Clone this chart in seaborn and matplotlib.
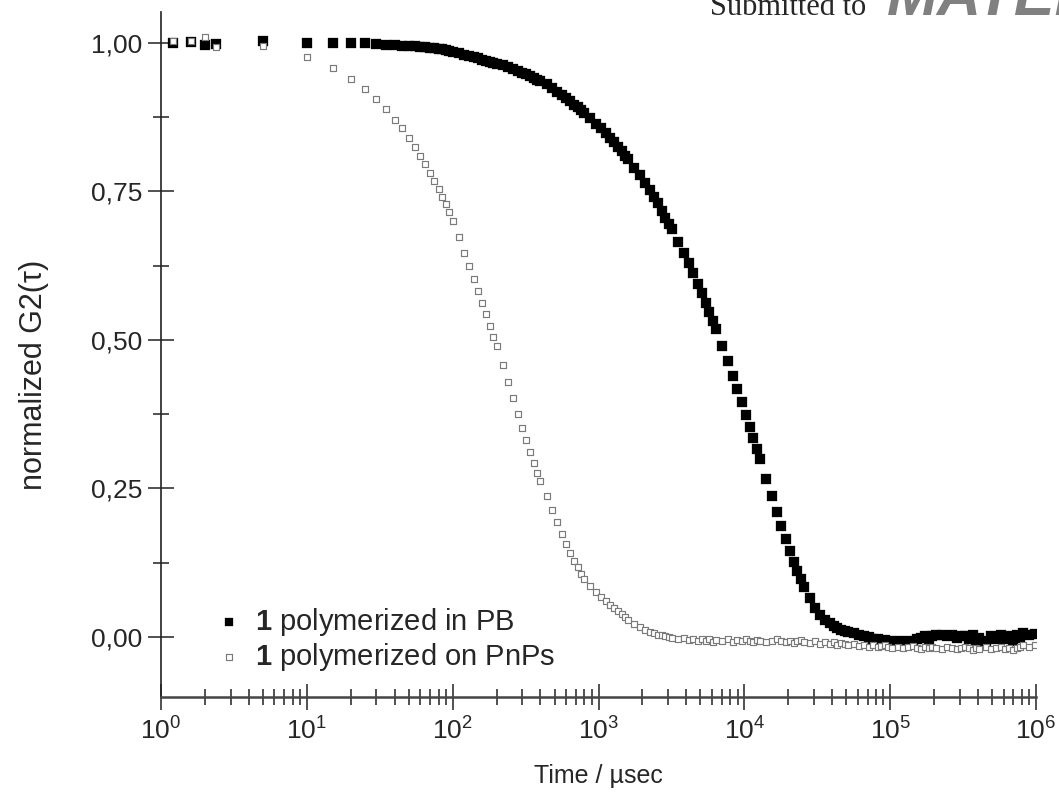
import math
import matplotlib
matplotlib.use("Agg")
import matplotlib.pyplot as plt
import matplotlib.ticker as mticker
import seaborn as sns
import pandas as pd

# ---------------- data ----------------
tau_us = [1.2, 1.6, 2.0, 2.4, 5,
          10, 15, 20, 25, 30, 35, 40, 45, 50, 55, 60, 65, 70, 75, 80, 85, 90, 95, 100,
          110, 120, 130, 140, 150, 160, 170, 180, 190, 200,
          220, 240, 260, 280, 300, 320, 340, 360, 380, 400,
          440, 480, 520, 560, 600, 640, 680, 720, 760, 800,
          880, 960, 1040, 1120, 1200, 1280, 1360, 1440, 1520, 1600,
          1760, 1920, 2080, 2240, 2400, 2560, 2720, 2880, 3040, 3200,
          3520, 3840, 4160, 4480, 4800, 5120, 5440, 5760, 6080, 6400,
          7040, 7680, 8320, 8960, 9600, 10240, 10880, 11520, 12160, 12800,
          14080, 15360, 16640, 17920, 19200, 20480, 21760, 23040, 24320, 25600,
          28160, 30720, 33280, 35840, 38400, 40960, 43520, 46080, 48640, 51200,
          56320, 61440, 66560, 71680, 76800, 81920, 87040, 92160, 97280, 102400,
          112640, 122880, 133120, 143360, 153600, 163840, 174080, 184320, 194560, 204800,
          225280, 245760, 266240, 286720, 307200, 327680, 348160, 368640, 389120, 409600,
          450560, 491520, 532480, 573440, 614400, 655360, 696320, 737280, 778240, 819200,
          901120, 983040]

g2_pb = [1.000, 1.001, 0.996, 0.998, 1.003,
         1.000, 1.000, 0.999, 0.999, 0.998, 0.997, 0.996, 0.995, 0.995, 0.994, 0.993, 0.993, 0.992, 0.991, 0.990, 0.989, 0.988, 0.986, 0.985,
         0.983, 0.980, 0.978, 0.976, 0.974, 0.972, 0.970, 0.968, 0.966, 0.965,
         0.962, 0.959, 0.956, 0.953, 0.950, 0.948, 0.944, 0.941, 0.938, 0.936,
         0.930, 0.924, 0.918, 0.912, 0.907, 0.902, 0.896, 0.892, 0.887, 0.882,
         0.873, 0.864, 0.856, 0.848, 0.840, 0.833, 0.825, 0.818, 0.810, 0.804,
         0.790, 0.778, 0.765, 0.752, 0.740, 0.730, 0.717, 0.706, 0.696, 0.686,
         0.665, 0.647, 0.630, 0.612, 0.595, 0.579, 0.562, 0.547, 0.532, 0.518,
         0.489, 0.465, 0.440, 0.417, 0.395, 0.374, 0.353, 0.335, 0.317, 0.300,
         0.266, 0.238, 0.211, 0.186, 0.165, 0.145, 0.127, 0.111, 0.097, 0.084,
         0.065, 0.049, 0.037, 0.029, 0.023, 0.018, 0.015, 0.012, 0.010, 0.008,
         0.006, 0.004, 0.002, 0.000, -0.003, -0.004, -0.006, -0.005, -0.007, -0.008,
         -0.007, -0.009, -0.006, -0.008, -0.004, -0.002, 0.001, -0.003, 0.002, 0.004,
         0.003, 0.001, 0.004, -0.002, 0.001, 0.002, -0.004, 0.003, -0.007, -0.002,
         -0.006, 0.001, -0.004, 0.004, -0.003, 0.002, -0.006, 0.004, -0.002, 0.006,
         0.003, 0.005]

g2_pnps = [1.004, 1.003, 1.010, 0.993, 0.994,
           0.976, 0.958, 0.939, 0.922, 0.906, 0.889, 0.870, 0.857, 0.840, 0.825, 0.810, 0.796, 0.781, 0.768, 0.754, 0.741, 0.729, 0.715, 0.700,
           0.673, 0.647, 0.624, 0.603, 0.582, 0.562, 0.543, 0.524, 0.505, 0.489,
           0.458, 0.429, 0.402, 0.376, 0.352, 0.331, 0.311, 0.293, 0.276, 0.263,
           0.237, 0.213, 0.193, 0.174, 0.157, 0.141, 0.128, 0.117, 0.106, 0.097,
           0.086, 0.075, 0.067, 0.060, 0.054, 0.048, 0.043, 0.038, 0.034, 0.029,
           0.022, 0.016, 0.011, 0.008, 0.006, 0.004, 0.003, 0.001, 0.000, -0.001,
           -0.003, -0.002, -0.005, -0.004, -0.007, -0.003, -0.006, -0.004, -0.008, -0.005,
           -0.006, -0.004, -0.008, -0.005, -0.007, -0.003, -0.006, -0.009, -0.005, -0.007,
           -0.008, -0.006, -0.004, -0.007, -0.009, -0.006, -0.010, -0.007, -0.005, -0.008,
           -0.010, -0.007, -0.011, -0.008, -0.012, -0.009, -0.013, -0.010, -0.012, -0.014,
           -0.012, -0.015, -0.013, -0.016, -0.014, -0.017, -0.015, -0.013, -0.016, -0.018,
           -0.016, -0.019, -0.017, -0.015, -0.018, -0.020, -0.017, -0.019, -0.016, -0.018,
           -0.020, -0.017, -0.019, -0.021, -0.018, -0.016, -0.019, -0.022, -0.018, -0.020,
           -0.017, -0.021, -0.019, -0.016, -0.020, -0.018, -0.022, -0.019, -0.017, -0.014,
           -0.016, -0.013]

label_pb = r"$\mathbf{1}$ polymerized in PB"
label_pnps = r"$\mathbf{1}$ polymerized on PnPs"
y_ticks = [0.00, 0.25, 0.50, 0.75, 1.00]
y_minor = [0.125, 0.375, 0.625, 0.875]
x_decades = [0, 1, 2, 3, 4, 5, 6]

# ---------------- style ----------------
sns.set_style("ticks")
plt.rcParams["font.family"] = ["Liberation Sans", "DejaVu Sans"]
plt.rcParams["mathtext.fontset"] = "custom"
plt.rcParams["mathtext.rm"] = "Liberation Sans"
plt.rcParams["mathtext.bf"] = "Liberation Sans:bold"
plt.rcParams["mathtext.it"] = "Liberation Sans:italic"
plt.rcParams["mathtext.sf"] = "Liberation Sans"

fig = plt.figure(figsize=(10.59, 8.0), dpi=100)
ax = fig.add_axes([161 / 1059, 103 / 800, 875 / 1059, 685 / 800])

df_pb = pd.DataFrame({"tau": tau_us, "g2": g2_pb})
df_pn = pd.DataFrame({"tau": tau_us, "g2": g2_pnps})

sns.scatterplot(data=df_pb, x="tau", y="g2", ax=ax, marker="s", s=48,
                color="black", edgecolor="black", linewidth=0.2, label=label_pb, zorder=3)
sns.scatterplot(data=df_pn, x="tau", y="g2", ax=ax, marker="s", s=21,
                facecolors="white", edgecolors="#7a7a7a", linewidth=0.85,
                label=label_pnps, zorder=4)

ax.set_xscale("log")
ax.set_xlim(1, 1e6)
ax.set_ylim(-0.101, 1.052)

ax.xaxis.set_major_locator(mticker.FixedLocator([10.0 ** d for d in x_decades]))
ax.xaxis.set_major_formatter(mticker.FuncFormatter(lambda v, p: r"$10^{%d}$" % round(math.log10(v))))
ax.xaxis.set_minor_locator(mticker.LogLocator(base=10, subs=[2, 3, 4, 5, 6, 7, 8, 9], numticks=20))
ax.xaxis.set_minor_formatter(mticker.NullFormatter())

ax.yaxis.set_major_locator(mticker.FixedLocator(y_ticks))
ax.yaxis.set_minor_locator(mticker.FixedLocator(y_minor))
ax.yaxis.set_major_formatter(mticker.FuncFormatter(lambda v, p: f"{v:.2f}".replace(".", ",")))

for side in ["top", "right"]:
    ax.spines[side].set_visible(False)
ax.spines["left"].set_linewidth(1.2)
ax.spines["bottom"].set_linewidth(1.8)
ax.spines["left"].set_color("#222222")
ax.spines["bottom"].set_color("#444444")

ax.tick_params(axis="both", which="major", direction="inout", length=19, width=1.1,
               color="#222222", labelsize=19, pad=4)
ax.tick_params(axis="both", which="minor", direction="inout", length=11, width=1.1,
               color="#222222")
ax.tick_params(axis="x", which="major", labelsize=19, pad=5)

ax.set_xlabel("Time / \u00b5sec", fontsize=18, labelpad=14)
ax.set_ylabel("normalized G2(\u03c4)", fontsize=22)
ax.yaxis.set_label_coords(-0.128, 0.47)

leg = ax.legend(loc="lower left", bbox_to_anchor=(0.064, 0.035), frameon=False,
                fontsize=21, handlelength=0.8, handletextpad=0.5, labelspacing=0.1,
                borderpad=0, borderaxespad=0, scatterpoints=1, markerscale=0.8)

fig.text(710 / 1059, 1 - 15 / 800, "Submitted to", fontsize=22,
         family=["Liberation Serif", "DejaVu Serif"], ha="left", va="baseline")
fig.text(887 / 1059, 1 - 15 / 800, "MATERIALS", fontsize=44, fontweight="bold",
         fontstyle="italic", color="#808080", ha="left", va="baseline")

fig.savefig("out.png", dpi=100)
